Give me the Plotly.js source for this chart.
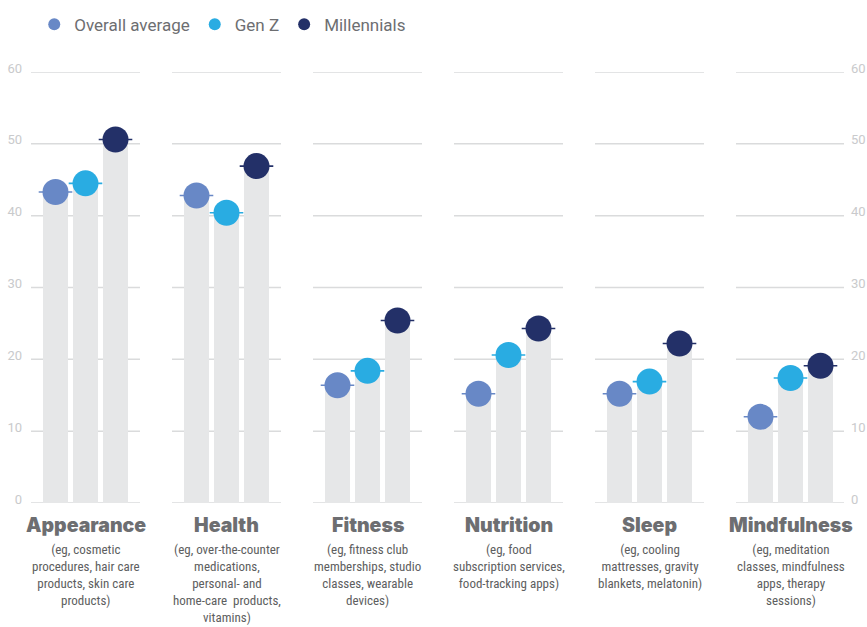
<!DOCTYPE html>
<html>
<head>
<meta charset="utf-8">
<script src="https://cdn.plot.ly/plotly-3.0.1.min.js"></script>
<style>html,body{margin:0;padding:0;background:#fff;}#chart{width:867px;height:627px;}</style>
</head>
<body>
<div id="chart"></div>
<script>
const categories = ['Appearance', 'Health', 'Fitness', 'Nutrition', 'Sleep', 'Mindfulness'];
const subtitles = [
  '(eg, cosmetic<br>procedures, hair care<br>products, skin care<br>products)',
  '(eg, over-the-counter<br>medications,<br>personal- and<br>home-care  products,<br>vitamins)',
  '(eg, fitness club<br>memberships, studio<br>classes, wearable<br>devices)',
  '(eg, food<br>subscription services,<br>food-tracking apps)',
  '(eg, cooling<br>mattresses, gravity<br>blankets, melatonin)',
  '(eg, meditation<br>classes, mindfulness<br>apps, therapy<br>sessions)'
];
const seriesNames = ['Overall average', 'Gen Z', 'Millennials'];
const overallAverage = [43.3, 42.8, 16.4, 15.2, 15.2, 12.0];
const genZ = [44.5, 40.4, 18.4, 20.6, 16.9, 17.4];
const millennials = [50.6, 46.9, 25.4, 24.3, 22.2, 19.1];
const yTicks = [0, 10, 20, 30, 40, 50, 60];

const series = [overallAverage, genZ, millennials];
const colors = ['#6888c6', '#29ace2', '#233068'];
const barColor = '#e6e7e8';
const gridColor = '#dadbdc';
const GROUP_PX = 141;
const barOffset = 30 / GROUP_PX;
const barWidth = 25 / GROUP_PX;
const halfGroup = 54.5 / GROUP_PX;

const xs = k => categories.map((c, i) => i + (k - 1) * barOffset);

const traces = [];
series.forEach((vals, k) => {
  traces.push({
    type: 'bar', x: xs(k), y: vals, width: barWidth,
    marker: {color: barColor, line: {width: 0}},
    showlegend: false, hoverinfo: 'skip'
  });
});
series.forEach((vals, k) => {
  traces.push({
    type: 'scatter', mode: 'markers', x: xs(k), y: vals,
    marker: {symbol: 'line-ew', size: 24, color: colors[k], line: {color: colors[k], width: 1.6}},
    showlegend: false, hoverinfo: 'skip'
  });
});
series.forEach((vals, k) => {
  traces.push({
    type: 'scatter', mode: 'markers', x: xs(k), y: vals, name: seriesNames[k],
    marker: {symbol: 'circle', size: 26, color: colors[k], line: {width: 0}},
    showlegend: true
  });
});
traces.push({type: 'scatter', x: [], y: [], yaxis: 'y2', showlegend: false, hoverinfo: 'skip'});

const shapes = [];
categories.forEach((c, i) => {
  yTicks.forEach(t => {
    shapes.push({type: 'line', xref: 'x', yref: 'y', layer: 'below',
      x0: i - halfGroup, x1: i + halfGroup, y0: t, y1: t,
      line: {color: gridColor, width: 1.5}});
  });
});

const annotations = [];
categories.forEach((c, i) => {
  annotations.push({xref: 'x', yref: 'paper', x: i, y: -0.019, xanchor: 'center', yanchor: 'top',
    text: c, showarrow: false,
    font: {family: 'Inter, Roboto, Arial, sans-serif', size: 19.5, color: '#6d6e71', weight: 900}});
  annotations.push({xref: 'x', yref: 'paper', x: i, y: -0.085, xanchor: 'center', yanchor: 'top',
    text: subtitles[i], showarrow: false, align: 'center',
    font: {family: '"Liberation Sans Narrow", "Roboto Condensed", Roboto, sans-serif', size: 13, color: '#5d5e60'}});
});

const tickFont = {family: 'Roboto, sans-serif', size: 13, color: '#c9cacc'};
const layout = {
  width: 867, height: 627,
  margin: {l: 31, r: 23, t: 72, b: 124, pad: 0, autoexpand: false},
  paper_bgcolor: '#ffffff', plot_bgcolor: '#ffffff',
  barmode: 'overlay',
  showlegend: true,
  legend: {orientation: 'h', x: 0.004, y: 1.11, xanchor: 'left', yanchor: 'middle',
    font: {family: 'Roboto, sans-serif', size: 17, color: '#6d6e71'}, itemsizing: 'constant',
    bgcolor: 'rgba(0,0,0,0)'},
  xaxis: {range: [-54.5 / GROUP_PX, (813 - 54.5) / GROUP_PX], showgrid: false, zeroline: false,
    showticklabels: false, ticks: '', showline: false, fixedrange: true},
  yaxis: {range: [0, 60], tickvals: yTicks, showgrid: false, zeroline: false, showline: false,
    ticks: '', tickfont: tickFont, ticklabelstandoff: 8, ticklabelshift: -4, fixedrange: true},
  yaxis2: {range: [0, 60], overlaying: 'y', side: 'right', tickvals: yTicks, showgrid: false,
    zeroline: false, showline: false, ticks: '', tickfont: tickFont, ticklabelstandoff: 6,
    ticklabelshift: -4, fixedrange: true},
  shapes: shapes,
  annotations: annotations,
  hovermode: false
};

Plotly.newPlot('chart', traces, layout, {displayModeBar: false, staticPlot: true});
</script>
</body>
</html>
